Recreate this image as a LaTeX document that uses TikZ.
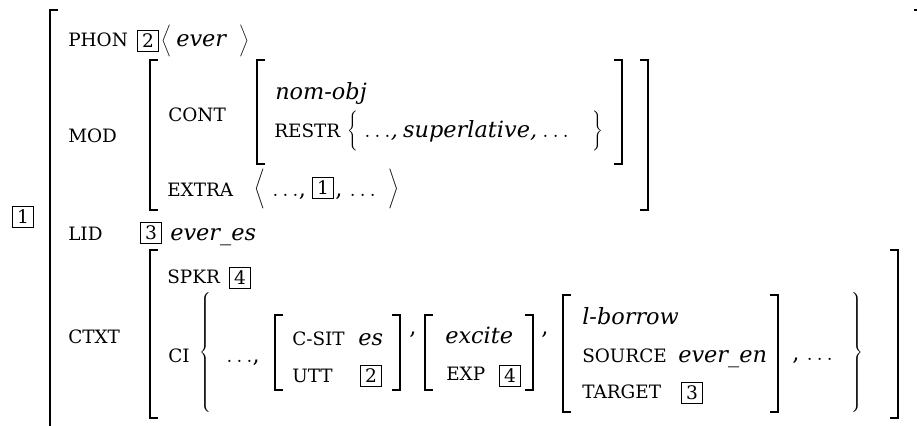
\documentclass[tikz,border=0pt]{standalone}
\usepackage{fontspec}
\setmainfont{DejaVu Serif}
\usetikzlibrary{positioning}

\tikzset{
  attr/.style={anchor=base west, inner sep=0pt, font=\fontsize{13.8}{15}\selectfont},
  val/.style={anchor=base west, inner sep=0pt, font=\fontsize{16.8}{18}\selectfont\itshape},
  plain/.style={anchor=base west, inner sep=0pt, font=\fontsize{16.8}{18}\selectfont},
  tagnum/.style={draw, line width=0.7pt, inner sep=0pt, minimum width=16pt,
    minimum height=16pt, font=\fontsize{14}{15}\selectfont},
  delim/.style={inner sep=0pt},
  brk/.style={line width=1.4pt, line cap=rect},
}
% square brackets of the matrices
\newcommand{\avmleft}[3]{\draw[brk] (#1+7,#2) -- (#1,#2) -- (#1,#3) -- (#1+7,#3);}
\newcommand{\avmright}[3]{\draw[brk] (#1-7,#2) -- (#1,#2) -- (#1,#3) -- (#1-7,#3);}

\begin{document}
\begin{tikzpicture}[x=0.75pt,y=-0.75pt]
  \clip (0,0) rectangle (917,425);

  % outer matrix
  \node[tagnum] (tagone) at (23,217) {1};
  \avmleft{50}{10}{440}
  \draw[brk] (915,10) -- (925,10) -- (925,440);

  % PHON
  \node[attr] (phon) at (68,46) {PHON};
  \node[tagnum] (phontag) at (148,41) {2};
  \node[delim] (phonl) at (166,41) {$\bigg\langle$};
  \node[val] (ever) at (176,46) {ever};
  \node[delim] (phonr) at (244,41) {$\bigg\rangle$};

  % MOD
  \node[attr] (mod) at (68,142) {MOD};
  \avmleft{150}{60}{210}
  \avmright{648}{60}{210}
  \node[attr] (cont) at (168,121) {CONT};
  \avmleft{257}{60}{164}
  \avmright{622}{60}{164}
  \node[val] (nomobj) at (275,99) {nom-obj};
  \node[attr] (restr) at (274,137) {RESTR};
  \node[delim] (restrl) at (353,131) {$\Bigg\{$};
  \node[val] (superl) at (364,137) {$\ldots$,\hspace{4pt}superlative,\hspace{4pt}$\ldots$};
  \node[delim] (restrr) at (598,131) {$\Bigg\}$};
  \node[attr] (extra) at (167,196) {EXTRA};
  \node[delim] (extral) at (260,189) {$\Bigg\langle$};
  \node[plain] (extdots) at (272,196) {$\ldots$,};
  \node[tagnum] (extratag) at (323,188) {1};
  \node[plain] (extdotsb) at (335,196) {, $\ldots$};
  \node[delim] (extrar) at (394,189) {$\Bigg\rangle$};

  % LID
  \node[attr] (lid) at (68,240) {LID};
  \node[tagnum] (lidtag) at (151,233) {3};
  \node[val] (everes) at (170,240) {ever\_es};

  % CTXT
  \node[attr] (ctxt) at (68,343) {CTXT};
  \avmleft{150}{250}{418}
  \avmright{898}{250}{418}
  \node[attr] (spkr) at (167,283) {SPKR};
  \node[tagnum] (spkrtag) at (240,278) {4};
  \node[attr] (ci) at (168,362) {CI};
  \node[delim] (cil) at (206,353) {$\left\{\vrule height 44pt depth 44pt width 0pt\right.$};
  \node[plain] (cidots) at (226,362) {$\ldots$,};

  % c-sit
  \avmleft{275}{315}{390}
  \avmright{400}{315}{390}
  \node[attr] (csit) at (292,345) {C-SIT};
  \node[val] (es) at (358,345) {es};
  \node[attr] (utt) at (292,382) {UTT};
  \node[tagnum] (utttag) at (371,376) {2};
  \node[plain] (comma) at (409,334) {,};

  % excite
  \avmleft{425}{315}{390}
  \avmright{533}{315}{390}
  \node[val] (excite) at (445,343) {excite};
  \node[attr] (exp) at (446,380) {EXP};
  \node[tagnum] (exptag) at (510,376) {4};
  \node[plain] (commab) at (541,334) {,};

  % l-borrow
  \avmleft{563}{295}{412}
  \avmright{778}{295}{412}
  \node[val] (lborrow) at (582,324) {l-borrow};
  \node[attr] (source) at (582,362) {SOURCE};
  \node[val] (everen) at (678,362) {ever\_en};
  \node[attr] (target) at (582,398) {TARGET};
  \node[tagnum] (targettag) at (692,393) {3};
  \node[plain] (cidotsb) at (792,360) {, $\ldots$};
  \node[delim] (cir) at (857,353) {$\left.\vrule height 44pt depth 44pt width 0pt\right\}$};
\end{tikzpicture}
\end{document}
